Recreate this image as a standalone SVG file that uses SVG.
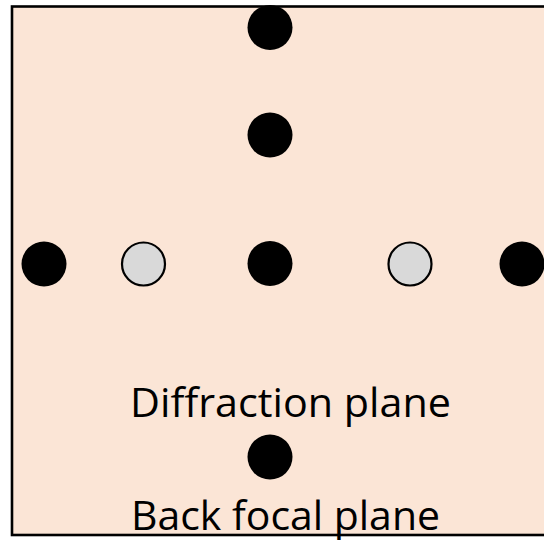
<svg xmlns="http://www.w3.org/2000/svg" width="544" height="540" viewBox="0 0 544 540">
  <style>
    .spot { fill: #000000; }
    .weak { fill: #D9D9D9; stroke: #000000; stroke-width: 2.2; }
    .label { font-family: "Open Sans", "Liberation Sans", sans-serif; font-size: 41px; fill: #000000; }
  </style>
  <rect width="544" height="540" fill="#FFFFFF"/>
  <g id="plane">
    <rect x="12" y="6.5" width="560" height="528.5" fill="#FBE5D6" stroke="#000000" stroke-width="2.6"/>
  </g>
  <g id="spot-top"><circle class="spot" cx="270" cy="27.5" r="22.5"/></g>
  <g id="spot-upper"><circle class="spot" cx="270" cy="135" r="22.5"/></g>
  <g id="spot-left"><circle class="spot" cx="44" cy="264" r="22.5"/></g>
  <g id="spot-weak-left"><circle class="weak" cx="143.5" cy="264" r="21.5"/></g>
  <g id="spot-center"><circle class="spot" cx="270" cy="263.5" r="22.5"/></g>
  <g id="spot-weak-right"><circle class="weak" cx="410" cy="264" r="21.5"/></g>
  <g id="spot-right"><circle class="spot" cx="522" cy="264" r="22.5"/></g>
  <g id="spot-bottom"><circle class="spot" cx="270" cy="457" r="22.5"/></g>
  <g id="label-diffraction">
    <text class="label" x="130" y="417" textLength="321" lengthAdjust="spacingAndGlyphs">Diffraction plane</text>
  </g>
  <g id="label-back-focal">
    <text class="label" x="131" y="530" textLength="309" lengthAdjust="spacingAndGlyphs">Back focal plane</text>
  </g>
</svg>
